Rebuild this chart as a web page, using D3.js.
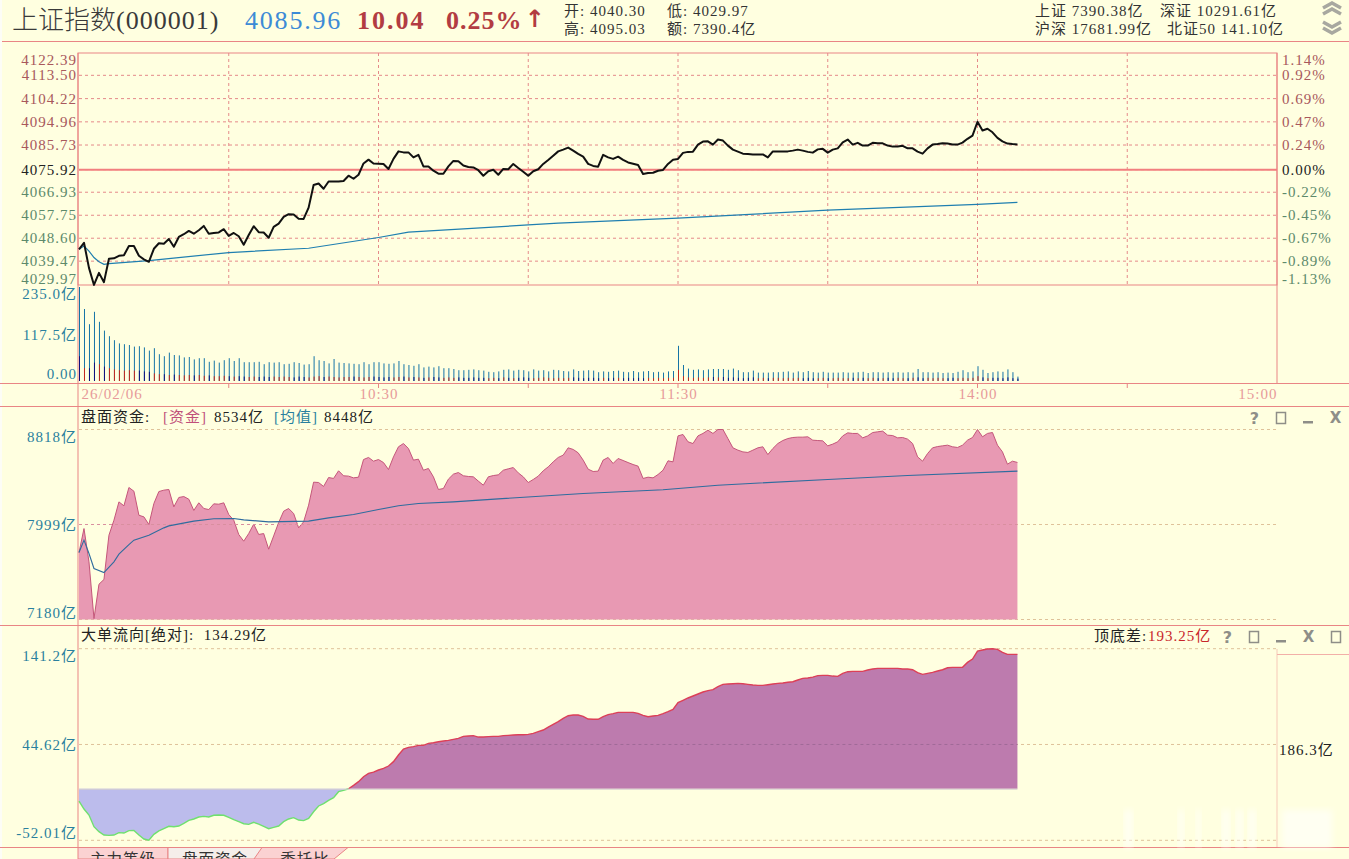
<!DOCTYPE html>
<html>
<head>
<meta charset="utf-8">
<script src="https://cdn.jsdelivr.net/npm/d3@7"></script>
<style>
html,body{margin:0;padding:0;background:#ffffe0;overflow:hidden;}
svg{display:block;}
text{font-family:"Liberation Serif","Noto Sans CJK SC",serif;font-size:15px;letter-spacing:1px;}
</style>
</head>
<body>
<svg id="chart" width="1349" height="859"></svg>
<script>
// one value per minute from 09:30
var price = [
4044.2,4046.8,4036.8,4030.0,4034.8,4031.1,4040.4,4040.6,4041.6,4041.8,
4045.5,4045.5,4041.6,4040.2,4039.2,4044.4,4046.6,4046.4,4048.3,4045.2,
4049.1,4050.2,4051.5,4050.4,4051.8,4053.5,4050.4,4050.7,4050.9,4052.2,
4049.5,4050.7,4049.4,4046.0,4049.9,4053.4,4051.0,4050.9,4048.8,4053.1,
4054.4,4057.1,4058.2,4058.1,4056.4,4056.3,4060.8,4069.8,4070.4,4068.3,
4071.2,4071.2,4071.2,4071.4,4073.5,4072.3,4073.9,4078.4,4079.9,4078.4,
4078.3,4078.2,4076.2,4080.2,4083.2,4082.8,4082.8,4080.8,4081.8,4077.2,
4077.2,4075.5,4074.3,4074.3,4077.2,4079.4,4079.3,4077.6,4077.0,4076.8,
4075.7,4073.5,4075.3,4075.9,4073.9,4076.2,4076.1,4078.2,4076.6,4075.1,
4073.5,4075.3,4076.1,4078.2,4079.8,4081.5,4083.2,4083.9,4084.7,4083.5,
4082.2,4081.1,4078.2,4077.4,4077.1,4081.8,4080.8,4080.2,4081.1,4079.8,
4078.8,4078.3,4077.8,4074.2,4074.6,4074.7,4075.5,4075.8,4078.2,4079.9,
4080.2,4082.6,4083.0,4083.1,4085.9,4087.1,4087.2,4085.9,4087.9,4087.5,
4085.5,4083.9,4083.1,4082.3,4082.2,4082.0,4082.0,4082.0,4080.8,4083.2,
4083.2,4083.2,4083.2,4083.5,4083.9,4083.5,4083.0,4082.7,4084.0,4084.2,
4082.7,4083.9,4084.4,4086.8,4087.9,4085.9,4086.6,4085.5,4085.5,4086.6,
4086.4,4086.4,4085.5,4085.1,4085.1,4085.4,4084.4,4084.4,4083.1,4082.3,
4084.4,4085.9,4086.1,4086.4,4086.3,4085.9,4085.9,4086.7,4088.2,4089.5,
4095.0,4091.5,4092.2,4090.8,4088.6,4087.2,4086.3,4086.1,4085.96];
var avgMinutes = [0,1,2,3,4,5,6,14,30,46,60,66,90,96,120,150,180,188];
var avgPrice = [4044.2,4045.5,4043.5,4040.9,4039.2,4038.2,4038.5,4039.7,4042.9,4044.6,4048.9,4051.0,4053.9,4054.6,4056.6,4059.8,4062.1,4062.9];

var volume = [
235,180,142,173,148,126,112,102,94,92,
90,86,87,84,76,82,67,62,71,65,
64,59,60,54,57,57,48,51,46,52,
57,50,57,47,47,47,48,42,47,46,
47,42,43,47,45,41,42,62,52,50,
44,55,46,45,44,43,42,47,42,47,
47,44,43,44,50,42,40,38,42,34,
36,34,37,32,32,30,27,27,28,29,
27,26,23,22,24,28,29,26,28,27,
24,29,26,27,24,28,27,25,24,29,
25,26,27,26,22,24,23,25,26,23,
22,25,22,24,25,22,23,21,24,25,
88,40,31,28,29,27,29,30,30,30,
28,31,27,22,22,26,21,21,21,22,
22,23,24,21,24,22,25,22,21,23,
21,21,21,22,21,21,22,23,20,22,
22,21,22,21,22,21,22,21,30,22,
22,21,22,20,21,20,23,27,22,24,
37,28,20,22,24,23,29,22,11];
// lower, darker part of each volume bar
var volumeLower = [
62,32,32,46,42,36,32,29,27,26,
27,26,26,24,23,19,17,17,15,16,
15,14,15,14,15,13,14,12,12,13,
12,11,12,11,10,11,10,11,10,11,
10,11,10,9,11,10,9,11,12,10,
11,10,9,10,10,11,10,9,10,11,
10,9,10,9,10,11,9,10,9,8,
9,10,9,8,9,8,9,8,8,9,
8,8,7,8,7,9,8,7,8,9,
8,7,8,9,8,7,8,7,8,9,
8,7,8,8,7,8,7,8,8,7,
8,7,8,7,8,7,8,7,8,8,
28,12,9,8,9,8,9,10,9,10,
8,9,8,7,8,9,7,8,7,8,
8,7,8,7,8,7,8,7,7,8,
7,7,8,7,7,8,7,8,7,8,
7,7,8,7,8,7,7,8,9,7,
8,7,8,7,7,8,7,8,7,8,
12,9,7,8,8,7,9,7,6];

var funds = [
7757,7964,7677,7188,7484,7525,7907,8036,8194,8160,
8318,8286,8079,8065,7999,8180,8283,8295,8301,8151,
8232,8240,8217,8120,8186,8137,8128,8177,8174,8186,
8085,8036,7913,7855,7921,8002,7913,7921,7786,7901,
8016,8114,8137,8094,7970,8022,8166,8364,8361,8327,
8404,8396,8462,8419,8416,8401,8407,8559,8577,8545,
8559,8533,8473,8582,8669,8697,8654,8554,8562,8467,
8482,8410,8301,8309,8390,8433,8447,8419,8413,8410,
8373,8338,8410,8421,8427,8467,8479,8490,8444,8410,
8361,8387,8416,8462,8496,8539,8577,8597,8660,8646,
8617,8554,8476,8456,8459,8554,8577,8525,8568,8551,
8533,8516,8502,8396,8407,8401,8430,8467,8548,8539,
8763,8775,8712,8697,8763,8784,8812,8784,8818,8818,
8740,8660,8640,8625,8620,8640,8660,8669,8602,8654,
8697,8723,8740,8749,8752,8752,8755,8726,8723,8720,
8677,8692,8712,8763,8789,8784,8784,8746,8763,8792,
8798,8804,8769,8766,8746,8749,8735,8697,8582,8545,
8611,8660,8671,8677,8683,8669,8663,8683,8726,8749,
8818,8755,8784,8792,8683,8625,8519,8545,8534];
var fundsAvgMinutes = [0,1,2,3,5,7,8,10,11,14,17,18,23,27,31,33,38,46,50,55,60,64,68,75,84,101,117,128,150,166,188];
var fundsAvg = [7757,7864,7749,7620,7585,7677,7743,7826,7864,7907,7970,7987,8028,8048,8051,8039,8022,8028,8056,8085,8128,8160,8180,8194,8220,8266,8298,8338,8387,8421,8459];

var bigOrder = [
-12.4,-20.5,-26.5,-38.3,-43.3,-46.7,-47.0,-46.7,-44.3,-44.7,
-42.3,-42.0,-46.7,-50.7,-52.0,-46.0,-42.6,-40.3,-37.9,-38.3,
-37.6,-34.9,-31.9,-30.5,-28.5,-27.9,-28.5,-26.8,-26.5,-26.8,
-28.8,-31.2,-33.2,-35.3,-35.9,-33.9,-35.6,-37.9,-40.3,-39.0,
-37.6,-33.2,-30.5,-29.2,-31.6,-32.2,-29.9,-23.2,-17.4,-15.1,
-11.7,-9.0,-3.0,-1.6,0.0,3.4,7.1,12.1,15.5,16.8,
18.9,20.5,22.9,27.3,34.0,40.0,41.7,42.4,43.7,43.7,
45.7,46.4,47.4,48.1,48.8,49.8,50.8,52.8,53.1,53.5,
52.1,52.1,52.5,52.8,52.8,53.5,53.8,54.2,54.5,54.5,
54.8,55.8,57.5,59.2,62.2,64.9,67.6,71.0,73.6,74.3,
74.3,73.0,70.3,70.0,70.0,72.6,74.7,75.7,77.0,77.0,
77.0,77.0,76.0,74.0,72.6,73.3,74.0,75.7,77.7,80.0,
86.8,89.1,91.5,93.5,95.5,97.5,98.9,99.9,102.9,105.2,
105.6,105.9,106.2,105.9,105.2,104.6,104.2,104.2,104.9,105.6,
106.2,106.6,107.3,107.9,109.6,111.3,111.6,112.6,114.0,114.3,
114.3,113.6,113.3,116.3,118.0,118.3,118.3,118.3,119.7,120.7,
121.4,121.4,121.4,121.4,121.4,120.7,120.7,120.0,117.0,115.3,
116.3,117.3,118.7,120.0,122.0,122.4,122.4,122.4,127.4,130.8,
138.8,139.9,140.9,141.2,140.5,137.5,135.5,135.5,135.5];

var priceTicks = [4122.39,4113.50,4104.22,4094.96,4085.73,4075.92,4066.93,4057.75,4048.60,4039.47,4029.97];
var pctLabels = ["1.14%","0.92%","0.69%","0.47%","0.24%","0.00%","-0.22%","-0.45%","-0.67%","-0.89%","-1.13%"];
var volumeTicks = [235,117.5,0];
var volumeLabels = ["235.0亿","117.5亿","0.00"];
var fundTicks = [8818,7999,7180];
var bigTicks = [141.2,44.62,-52.01];
var bigLabels = ["141.2亿","44.62亿","-52.01亿"];
var halfHours = [30,60,90,120,150,180,210];
var timeMinutes = [0,60,120,180,240];
var timeLabels = ["26/02/06","10:30","11:30","14:00","15:00"];
var tabNames = ["主力等级","盘面资金","委托比"];

var svg = d3.select("#chart");
var BLUE = "#2a7f9e", LINE = "#e98585", GRID = "#e58a8a", TAN = "#dfc29a";

svg.append("rect").attr("width",1349).attr("height",859).attr("fill","#ffffe0");
svg.append("rect").attr("width",2).attr("height",859).attr("fill","#fdfdf6");

var x = d3.scaleLinear().domain([0,240]).range([79,1277]);
var yPrice = d3.scaleLinear().domain([4029.97,4122.39]).range([285,53]);
var yVol = d3.scaleLinear().domain([0,235]).range([381,287]);
var yFund = d3.scaleLinear().domain([7180,8818]).range([619.5,429.5]);
var yBig = d3.scaleLinear().domain([-52.01,141.2]).range([840.3,648.7]);

function hline(y, x1, x2, color){
	svg.append("line").attr("x1",x1).attr("x2",x2).attr("y1",y).attr("y2",y)
		.attr("stroke",color||LINE).attr("stroke-width",1);
}
function vline(xx, y1, y2, color){
	svg.append("line").attr("x1",xx).attr("x2",xx).attr("y1",y1).attr("y2",y2)
		.attr("stroke",color||LINE).attr("stroke-width",1);
}
function label(txt, xx, y, color, size, anchor){
	var t = svg.append("text").attr("x",xx).attr("y",y).attr("dy","0.35em")
		.attr("fill",color||"#333").attr("text-anchor",anchor||"start").text(txt);
	if (size) t.style("font-size",size+"px");
	return t;
}

// frame lines
hline(41.5,2,1349);
hline(383.5,0,1349);
hline(406.5,0,1349);
hline(625.5,0,1349);
hline(847.5,0,1349);
vline(78,53,847);
vline(1277,53,383);
vline(1277,649,847,"#f6c9b8");
hline(654.5,1277,1349,"#f2b0a8");

// header
var title = svg.append("text").attr("x",12).attr("y",29).attr("fill","#3a3a3a").style("letter-spacing","0");
title.append("tspan").style("font-family","'Noto Sans CJK SC'").style("font-size","26px").style("font-weight","300").text("上证指数");
title.append("tspan").style("font-size","26px").style("letter-spacing","1px").text("(000001)");
label("4085.96",245,20,"#3d8bd6",26).style("letter-spacing","1.8px");
label("10.04",357,20,"#b23c42",26).style("letter-spacing","2px").style("font-weight","bold");
label("0.25%",446,20,"#b23c42",26).style("letter-spacing","1px").style("font-weight","bold");
label("↑",535,19,"#b23c42",24,"middle").style("font-family","'DejaVu Sans'").style("font-weight","bold");
label("开: 4040.30",564,10.5);
label("低: 4029.97",667,10.5);
label("高: 4095.03",564,29);
label("额: 7390.4亿",667,29);
label("上证 7390.38亿",1035,10.5);
label("深证 10291.61亿",1160,10.5);
label("沪深 17681.99亿",1035,29);
label("北证50 141.10亿",1167,29);
[[6,-1],[27,1]].forEach(function(c){
	[0,6].forEach(function(off){
		var y0 = c[0]+off-3;
		var p = d3.path();
		if (c[1] < 0){ p.moveTo(1323,y0+5); p.lineTo(1332,y0); p.lineTo(1341,y0+5); }
		else { p.moveTo(1323,y0-2); p.lineTo(1332,y0+3); p.lineTo(1341,y0-2); }
		svg.append("path").attr("d",p.toString()).attr("fill","none").attr("stroke","#a8a8a0").attr("stroke-width",3.5);
	});
});

// price pane
svg.append("rect").attr("x",78).attr("y",53).attr("width",1199).attr("height",232).attr("fill","none").attr("stroke",LINE);
svg.append("g").selectAll("line").data(priceTicks.slice(1,-1)).enter().append("line")
	.attr("x1",79).attr("x2",1277)
	.attr("y1",function(d){ return yPrice(d); }).attr("y2",function(d){ return yPrice(d); })
	.attr("stroke",GRID).attr("stroke-dasharray","3,3");
svg.append("g").selectAll("line").data(halfHours).enter().append("line")
	.attr("x1",function(d){ return x(d); }).attr("x2",function(d){ return x(d); })
	.attr("y1",53).attr("y2",285)
	.attr("stroke",GRID).attr("stroke-dasharray","3,3");
svg.append("line").attr("x1",79).attr("x2",1277).attr("y1",yPrice(4075.92)).attr("y2",yPrice(4075.92))
	.attr("stroke","#f27f7f").attr("stroke-width",2);

function priceColor(d){
	if (d > 4075.92) return "#a8585c";
	if (d < 4075.92) return "#5d8a6b";
	return "#222";
}
function endShift(d, i, n){
	if (i == 0) return 7;
	if (i == n-1) return -6;
	return 0;
}
var axisL = d3.axisLeft(yPrice).tickValues(priceTicks).tickSize(0).tickPadding(1)
	.tickFormat(d3.format(".2f"));
var gL = svg.append("g").attr("transform","translate(78,0)").call(axisL);
gL.select(".domain").remove();
gL.selectAll("text").attr("fill",priceColor)
	.attr("dy",function(d,i){ return (endShift(d,i,priceTicks.length)+4.5)+"px"; });

var axisR = d3.axisRight(yPrice).tickValues(priceTicks).tickSize(0).tickPadding(5)
	.tickFormat(function(d,i){ return pctLabels[i]; });
var gR = svg.append("g").attr("transform","translate(1277,0)").call(axisR);
gR.select(".domain").remove();
gR.selectAll("text").attr("fill",priceColor)
	.attr("dy",function(d,i){ return (endShift(d,i,priceTicks.length)+4.5)+"px"; });

var avgLine = d3.line().x(function(d,i){ return x(avgMinutes[i]); }).y(function(d){ return yPrice(d); });
svg.append("path").attr("d",avgLine(avgPrice)).attr("fill","none").attr("stroke","#1f7fb0").attr("stroke-width",1.2);
var priceLine = d3.line().x(function(d,i){ return x(i); }).y(function(d){ return yPrice(d); });
svg.append("path").attr("d",priceLine(price)).attr("fill","none").attr("stroke","#111").attr("stroke-width",2).attr("stroke-linejoin","round");

// volume pane
svg.append("g").selectAll("line").data(volume).enter().append("line")
	.attr("x1",function(d,i){ return x(i)+0.5; }).attr("x2",function(d,i){ return x(i)+0.5; })
	.attr("y1",yVol(0)).attr("y2",function(d){ return yVol(d); })
	.attr("stroke","#1574a6").attr("stroke-width",1);
svg.append("g").selectAll("line").data(volumeLower).enter().append("line")
	.attr("x1",function(d,i){ return x(i)+0.5; }).attr("x2",function(d,i){ return x(i)+0.5; })
	.attr("y1",yVol(0)).attr("y2",function(d){ return yVol(d); })
	.attr("stroke",function(d,i){ return (i > 0 && price[i] >= price[i-1]) ? "#c4281e" : "#10107e"; })
	.attr("stroke-width",1);

var axisV = d3.axisLeft(yVol).tickValues(volumeTicks).tickSize(0).tickPadding(1)
	.tickFormat(function(d,i){ return volumeLabels[i]; });
var gV = svg.append("g").attr("transform","translate(78,0)").call(axisV);
gV.select(".domain").remove();
gV.selectAll("text").attr("fill",BLUE)
	.attr("dy",function(d,i){ return (i == 0 ? 11.5 : i == 2 ? -2.5 : 5)+"px"; });

// time axis, ticks both sides of the lines
svg.append("g").selectAll("line").data(halfHours).enter().append("line")
	.attr("x1",function(d){ return x(d); }).attr("x2",function(d){ return x(d); })
	.attr("y1",383).attr("y2",388).attr("stroke",LINE);
var axisT = d3.axisBottom(x).tickValues(timeMinutes).tickSize(0).tickPadding(0)
	.tickFormat(function(d,i){ return timeLabels[i]; });
var gT = svg.append("g").attr("transform","translate(0,387)").call(axisT);
gT.select(".domain").remove();
gT.selectAll("text").attr("fill","#e79a9a").attr("y",0).attr("dy","0.8em")
	.attr("text-anchor",function(d,i){ return i == 0 ? "start" : i == 4 ? "end" : "middle"; })
	.attr("dx",function(d,i){ return i == 0 ? 2 : 0; });

// funds pane
function tanGrid(scale, ticks){
	svg.append("g").selectAll("line").data(ticks).enter().append("line")
		.attr("x1",79).attr("x2",1276)
		.attr("y1",function(d){ return scale(d); }).attr("y2",function(d){ return scale(d); })
		.attr("stroke",TAN).attr("stroke-dasharray","3,3");
}
tanGrid(yFund,fundTicks);
var fundArea = d3.area().x(function(d,i){ return x(i); }).y0(yFund(7180)).y1(function(d){ return yFund(d); });
svg.append("path").attr("d",fundArea(funds)).attr("fill","#e899b3");
var fundLine = d3.line().x(function(d,i){ return x(i); }).y(function(d){ return yFund(d); });
svg.append("path").attr("d",fundLine(funds)).attr("fill","none").attr("stroke","#c4567a").attr("stroke-width",1);
svg.append("line").attr("x1",79).attr("x2",x(188)).attr("y1",yFund(7999)).attr("y2",yFund(7999))
	.attr("stroke","#d98f9f").attr("stroke-dasharray","3,3");
var fundAvgLine = d3.line().x(function(d,i){ return x(fundsAvgMinutes[i]); }).y(function(d){ return yFund(d); });
svg.append("path").attr("d",fundAvgLine(fundsAvg)).attr("fill","none").attr("stroke","#2f6c9e").attr("stroke-width",1.1);

var axisF = d3.axisLeft(yFund).tickValues(fundTicks).tickSize(0).tickPadding(1)
	.tickFormat(function(d){ return d+"亿"; });
var gF = svg.append("g").attr("transform","translate(78,0)").call(axisF);
gF.select(".domain").remove();
gF.selectAll("text").attr("fill",BLUE)
	.attr("dy",function(d,i){ return (i == 0 ? 12 : i == 2 ? -2 : 5)+"px"; });

label("盘面资金:",81,417,"#222");
label("[资金]",163,417,"#c0507a");
label("8534亿",214,417,"#222");
label("[均值]",274,417,"#2a7f9e");
label("8448亿",324,417,"#222");

// big order pane
tanGrid(yBig,bigTicks);
var bigPos = d3.area().x(function(d,i){ return x(i); }).y0(yBig(0)).y1(function(d){ return yBig(Math.max(d,0)); });
var bigNeg = d3.area().x(function(d,i){ return x(i); }).y0(yBig(0)).y1(function(d){ return yBig(Math.min(d,0)); });
svg.append("path").attr("d",bigNeg(bigOrder)).attr("fill","#bcbcec");
svg.append("path").attr("d",bigPos(bigOrder)).attr("fill","#bd7bae");
var bigLine = d3.line().x(function(d,i){ return x(i); }).y(function(d){ return yBig(d); });
svg.append("path").attr("d",bigLine(bigOrder.slice(0,55))).attr("fill","none").attr("stroke","#6fe06f").attr("stroke-width",1.4);
svg.append("path").attr("d",d3.line().x(function(d,i){ return x(i+54); }).y(function(d){ return yBig(d); })(bigOrder.slice(54)))
	.attr("fill","none").attr("stroke","#dc4058").attr("stroke-width",1.4);
svg.append("line").attr("x1",79).attr("x2",x(188)).attr("y1",yBig(0)+0.5).attr("y2",yBig(0)+0.5).attr("stroke","#d6d0d0").attr("stroke-width",1);
svg.append("line").attr("x1",x(70)).attr("x2",x(188)).attr("y1",yBig(44.62)).attr("y2",yBig(44.62))
	.attr("stroke","#a06a98").attr("stroke-dasharray","3,3");

var axisB = d3.axisLeft(yBig).tickValues(bigTicks).tickSize(0).tickPadding(1)
	.tickFormat(function(d,i){ return bigLabels[i]; });
var gB = svg.append("g").attr("transform","translate(78,0)").call(axisB);
gB.select(".domain").remove();
gB.selectAll("text").attr("fill",BLUE)
	.attr("dy",function(d,i){ return (i == 0 ? 12 : i == 2 ? -3 : 5)+"px"; });

label("大单流向[绝对]:  134.29亿",81,635,"#222").attr("xml:space","preserve").style("white-space","pre");
label("顶底差:",1094,636,"#222");
label("193.25亿",1148,636,"#c8262a");
label("186.3亿",1279,750,"#222");

// window buttons: help, restore, minimise, close, and a last one on the lower pane
var BTN = "#8e8e88";
function helpBtn(xx, y){ label("?",xx,y,BTN,16,"middle").style("font-family","'DejaVu Sans'").style("font-weight","bold"); }
function boxBtn(xx, y){
	svg.append("rect").attr("x",xx-4.5).attr("y",y-5.5).attr("width",9).attr("height",11)
		.attr("fill","none").attr("stroke",BTN).attr("stroke-width",1.5);
}
function minBtn(xx, y){
	svg.append("rect").attr("x",xx-5).attr("y",y+3).attr("width",10).attr("height",2.5).attr("fill",BTN);
}
function closeBtn(xx, y){ label("X",xx,y,BTN,15,"middle").style("font-family","'DejaVu Sans'").style("font-weight","bold"); }
helpBtn(1255,418); boxBtn(1281,418); minBtn(1308,418); closeBtn(1336,418);
helpBtn(1228,637); boxBtn(1254,637); minBtn(1281,637); closeBtn(1309,637); boxBtn(1336,637);

// tabs along the bottom
var tabEdges = [[78,168],[168,262],[262,348]];
tabNames.forEach(function(name,i){
	var e = tabEdges[i];
	var p = d3.path();
	p.moveTo(e[0],847.5); p.lineTo(e[1],847.5);
	p.lineTo(i == 2 ? e[1]-14 : e[1],859); p.lineTo(e[0]-(i == 2 ? 8 : 0),859); p.closePath();
	svg.append("path").attr("d",p.toString()).attr("fill",i == 1 ? "#f5eeea" : "#fbd2d2").attr("stroke",LINE);
	svg.append("text").attr("x",(e[0]+e[1])/2).attr("y",865).attr("text-anchor","middle")
		.attr("fill","#333").style("font-size","15.5px").style("font-family","'Noto Sans CJK SC'").text(name);
});

// pale watermark smear at the bottom right of the picture
var defs = svg.append("defs");
defs.append("filter").attr("id","soft").append("feGaussianBlur").attr("stdDeviation",3);
[[1124,9],[1178,6],[1196,5],[1222,8],[1236,7],[1248,8],[1282,50]].forEach(function(s){
	svg.append("rect").attr("x",s[0]).attr("y",810).attr("width",s[1]).attr("height",38)
		.attr("fill","#ffffff").attr("opacity",0.6).attr("filter","url(#soft)");
});
</script>
</body>
</html>
